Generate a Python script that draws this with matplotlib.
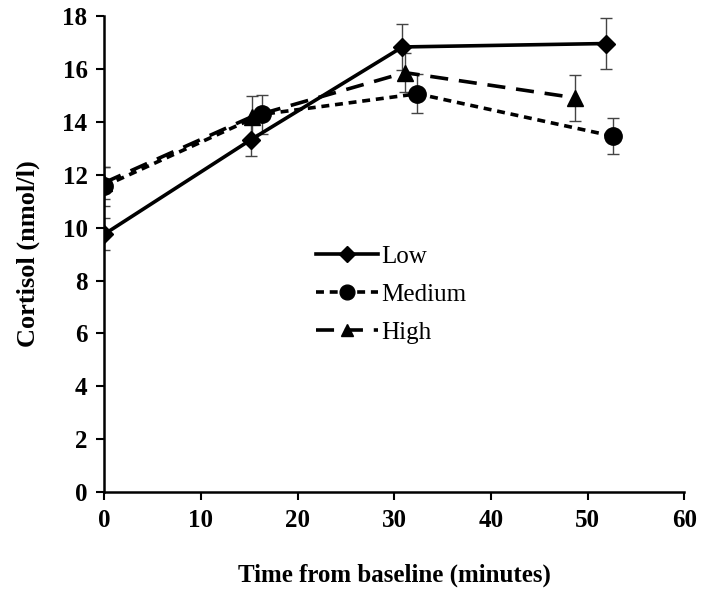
import matplotlib
matplotlib.use('Agg')
from matplotlib import pyplot as plt

# data
lowX = [0, 15.2, 30.85, 51.9]
lowY = [9.75, 13.33, 16.83, 16.96]
lowErr = [0.6, 0.63, 0.87, 0.95]

medX = [0, 16.3, 32.4, 52.6]
medY = [11.57, 14.28, 15.06, 13.46]
medErr = [0.74, 0.75, 0.74, 0.69]

highX = [0, 15.3, 31.1, 48.7]
highY = [11.7, 14.2, 15.86, 14.91]
highErr = [0.6, 0.78, 0.75, 0.86]

xTicks = [0, 10, 20, 30, 40, 50, 60]
yTicks = [0, 2, 4, 6, 8, 10, 12, 14, 16, 18]


def plotCortisol():
  plt.rcParams['font.family'] = ['Liberation Serif', 'DejaVu Serif']
  fig = plt.figure(figsize=(7.04, 5.93), dpi=100)
  ax = fig.add_axes([0.148, 0.170, 0.824, 0.803])

  ebKw = dict(fmt='none', ecolor='#444444', elinewidth=1, capsize=4, capthick=1, zorder=2)
  ax.errorbar(lowX, lowY, yerr=lowErr, **ebKw)
  ax.errorbar(medX, medY, yerr=medErr, **ebKw)
  ax.errorbar(highX, highY, yerr=highErr, **ebKw)

  ax.plot(lowX, lowY, color='black', lw=2.6, ls='-', marker='D', ms=9,
          label='Low', zorder=3)
  ax.plot(medX, medY, color='black', lw=2.6, ls=(0, (2.2, 1.6)), marker='o', ms=12.5,
          label='Medium', zorder=3)
  ax.plot(highX, highY, color='black', lw=2.6, ls=(0, (5, 3)), marker='^', ms=11,
          label='High', zorder=3)

  ax.set_xlim(0, 60)
  ax.set_ylim(0, 18)
  ax.set_xticks(xTicks)
  ax.set_yticks(yTicks)
  for sp in ['top', 'right']:
    ax.spines[sp].set_visible(False)
  for sp in ['left', 'bottom']:
    ax.spines[sp].set_linewidth(1.8)
  ax.tick_params(direction='out', length=6, width=1.5, labelsize=18, pad=6)
  for lbl in ax.get_xticklabels() + ax.get_yticklabels():
    lbl.set_fontweight('bold')

  ax.set_xlabel('Time from baseline (minutes)', fontsize=18, fontweight='bold', labelpad=23)
  ax.set_ylabel('Cortisol (nmol/l)', fontsize=19, fontweight='bold', labelpad=16)

  ax.legend(loc='center left', bbox_to_anchor=(0.365, 0.415), frameon=False,
            fontsize=18, handlelength=2.5, handletextpad=0.1, labelspacing=0.63,
            borderpad=0, borderaxespad=0, markerscale=0.85)

  fig.savefig('out.png', dpi=100)


if __name__ == '__main__':
  plotCortisol()
